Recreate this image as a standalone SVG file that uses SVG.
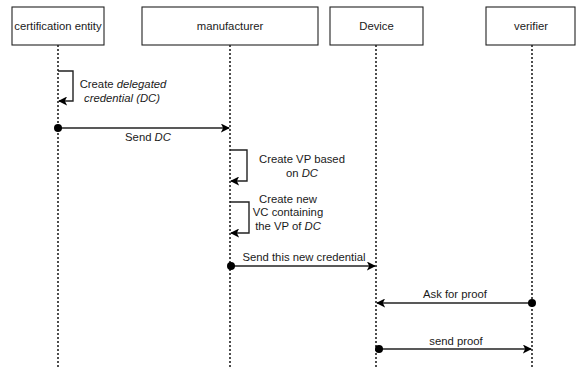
<svg xmlns="http://www.w3.org/2000/svg" width="577" height="367" viewBox="0 0 577 367">
<defs>
<style>
.box{fill:#fff;stroke:#222;stroke-width:1.1}
.lbl{font-family:"Liberation Sans",Arial,sans-serif;font-size:11.3px;fill:#1a1a1a;text-anchor:middle}
.life{stroke:#222;stroke-width:1.6;stroke-dasharray:2 2;fill:none}
.msg{stroke:#222;stroke-width:1.4;fill:none}
.dot{fill:#000}
</style>
<marker id="arr" viewBox="0 0 10 10" refX="9" refY="5" markerWidth="9" markerHeight="9" markerUnits="userSpaceOnUse" orient="auto">
<path d="M0,0 L10,5 L0,10 L2.5,5 Z" fill="#000"/>
</marker>
</defs>
<g id="node-cert">
<rect class="box" x="12" y="7" width="92" height="38"/>
<text class="lbl" x="58" y="30">certification entity</text>
</g>
<g id="node-manufacturer">
<rect class="box" x="142" y="7" width="176" height="38"/>
<text class="lbl" x="230" y="30">manufacturer</text>
</g>
<g id="node-device">
<rect class="box" x="330" y="7" width="93" height="38"/>
<text class="lbl" x="376.5" y="30">Device</text>
</g>
<g id="node-verifier">
<rect class="box" x="486" y="7" width="89" height="38"/>
<text class="lbl" x="531" y="30">verifier</text>
</g>
<g id="connectors">
<line class="life" x1="58" y1="45" x2="58" y2="367"/>
<line class="life" x1="230" y1="45" x2="230" y2="367"/>
<line class="life" x1="376" y1="45" x2="376" y2="367"/>
<line class="life" x1="532" y1="45" x2="532" y2="367"/>
<polyline class="msg" points="58,71 73,71 73,101 59,101" marker-end="url(#arr)"/>
<line class="msg" x1="58" y1="128" x2="229" y2="128" marker-end="url(#arr)"/>
<circle class="dot" cx="58" cy="128" r="4"/>
<polyline class="msg" points="230,150 247,150 247,181 231,181" marker-end="url(#arr)"/>
<polyline class="msg" points="230,202 249,202 249,233 231,233" marker-end="url(#arr)"/>
<line class="msg" x1="231" y1="266" x2="375" y2="266" marker-end="url(#arr)"/>
<circle class="dot" cx="231" cy="266" r="4"/>
<line class="msg" x1="532" y1="303" x2="377" y2="303" marker-end="url(#arr)"/>
<circle class="dot" cx="532" cy="303" r="4"/>
<line class="msg" x1="379" y1="349" x2="531" y2="349" marker-end="url(#arr)"/>
<circle class="dot" cx="379" cy="349" r="4"/>
</g>
<g id="labels">
<text class="lbl" x="123" y="88">Create <tspan font-style="italic">delegated</tspan></text>
<text class="lbl" x="122" y="102" font-style="italic">credential (DC)</text>
<text class="lbl" x="148" y="141">Send <tspan font-style="italic">DC</tspan></text>
<text class="lbl" x="302" y="163">Create VP based</text>
<text class="lbl" x="302" y="177">on <tspan font-style="italic">DC</tspan></text>
<text class="lbl" x="288" y="203">Create new</text>
<text class="lbl" x="288" y="216">VC containing</text>
<text class="lbl" x="288" y="230">the VP of <tspan font-style="italic">DC</tspan></text>
<text class="lbl" x="304" y="261">Send this new credential</text>
<text class="lbl" x="455" y="298">Ask for proof</text>
<text class="lbl" x="456" y="345">send proof</text>
</g>
</svg>
